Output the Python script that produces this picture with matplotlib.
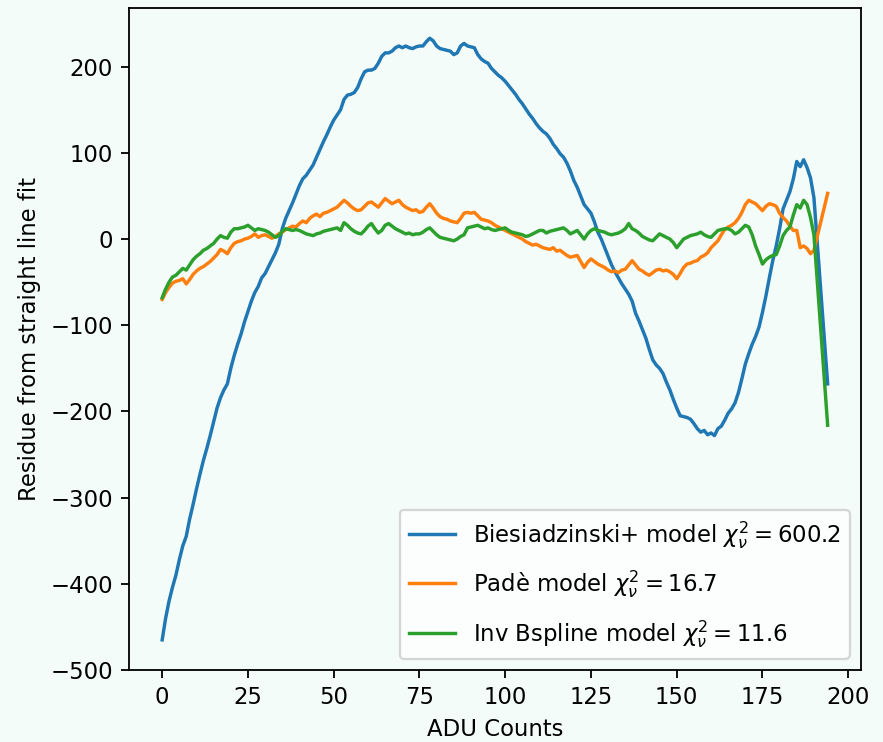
import numpy as np
import matplotlib
matplotlib.use("Agg")
import matplotlib.pyplot as plt

# ADU counts (x) -- integer steps, final sample at 194
adu = list(range(0, 191)) + [194]

biesiadzinski = [
    -465, -440, -420, -404, -390, -372, -356, -345, -325, -308,
    -290, -273, -257, -243, -228, -212, -196, -184, -175, -168,
    -150, -135, -122, -110, -96, -84, -72, -62, -55, -45,
    -40, -32, -24, -16, -6, 12, 24, 33, 42, 52,
    62, 70, 74, 80, 86, 95, 104, 113, 121, 130,
    138, 144, 150, 162, 167, 168, 170, 176, 186, 194,
    196, 196, 198, 204, 212, 216, 216, 218, 222, 224,
    222, 224, 222, 221, 223, 224, 224, 229, 233, 230,
    224, 221, 220, 219, 218, 214, 216, 224, 227, 224,
    223, 222, 214, 209, 206, 204, 198, 194, 190, 187,
    183, 178, 173, 168, 162, 157, 151, 145, 140, 134,
    129, 125, 122, 117, 110, 105, 99, 95, 88, 79,
    68, 60, 50, 40, 35, 30, 20, 8, 0, -10,
    -20, -30, -38, -45, -52, -58, -64, -72, -86, -95,
    -105, -115, -128, -140, -146, -150, -156, -166, -175, -186,
    -196, -205, -206, -207, -209, -214, -220, -224, -222, -227,
    -225, -228, -220, -217, -210, -202, -197, -190, -178, -162,
    -145, -133, -122, -113, -102, -85, -66, -45, -25, -8,
    12, 35, 45, 55, 70, 90, 84, 92, 83, 71,
    48, -168,
]

pade = [
    -70, -62, -56, -51, -49, -48, -46, -52, -47, -41,
    -37, -34, -32, -29, -26, -22, -18, -12, -14, -17,
    -10, -5, -3, -2, 0, 1, 3, 6, 2, 4,
    5, 3, 1, 3, 6, 8, 11, 13, 15, 14,
    18, 21, 19, 24, 27, 29, 26, 30, 31, 33,
    35, 37, 41, 45, 42, 38, 35, 33, 34, 38,
    42, 43, 40, 37, 42, 47, 44, 41, 43, 45,
    40, 37, 35, 33, 34, 31, 32, 37, 41, 36,
    30, 26, 24, 23, 21, 20, 19, 24, 30, 31,
    30, 31, 27, 23, 22, 21, 19, 16, 14, 12,
    10, 8, 6, 4, 2, 0, -3, -5, -7, -6,
    -8, -10, -11, -12, -10, -14, -13, -16, -19, -21,
    -20, -19, -26, -33, -27, -23, -26, -29, -31, -33,
    -36, -38, -37, -39, -36, -35, -30, -25, -30, -35,
    -37, -40, -42, -39, -36, -35, -37, -36, -38, -41,
    -46, -40, -33, -29, -28, -26, -25, -21, -19, -16,
    -10, -6, -2, 5, 11, 14, 16, 19, 24, 31,
    40, 45, 43, 41, 37, 33, 38, 41, 40, 38,
    30, 25, 21, 15, 10, 10, -10, -8, -11, -17,
    -13, 53,
]

inv_bspline = [
    -68, -58, -50, -44, -42, -38, -34, -36, -30, -24,
    -20, -17, -13, -11, -8, -5, 0, 4, 2, 1,
    8, 12, 12, 13, 14, 16, 13, 10, 12, 11,
    10, 8, 5, 2, 4, 9, 12, 11, 10, 11,
    10, 8, 6, 5, 4, 6, 7, 9, 10, 11,
    12, 13, 10, 19, 16, 12, 9, 7, 6, 10,
    15, 18, 12, 7, 10, 16, 18, 15, 12, 10,
    8, 6, 7, 5, 6, 6, 8, 11, 13, 9,
    5, 2, 1, 0, -1, -2, 0, 3, 5, 13,
    14, 15, 16, 14, 12, 13, 11, 10, 11, 12,
    13, 10, 8, 7, 6, 5, 3, 4, 6, 8,
    10, 10, 7, 9, 10, 11, 12, 13, 10, 6,
    8, 10, 5, 0, 6, 10, 12, 10, 9, 8,
    6, 5, 6, 7, 9, 12, 18, 12, 10, 7,
    3, 1, -1, -2, 2, 6, 4, 2, 0, -4,
    -10, -5, 0, 2, 4, 5, 6, 8, 5, 3,
    2, 6, 10, 11, 12, 12, 10, 6, 8, 12,
    16, 14, 5, -8, -18, -29, -24, -21, -19, -18,
    -8, 4, 10, 14, 28, 40, 36, 45, 40, 25,
    5, -216,
]

labels = [
    r"Biesiadzinski+ model $\chi^2_\nu = 600.2$",
    r"Padè model $\chi^2_\nu = 16.7$",
    r"Inv Bspline model $\chi^2_\nu = 11.6$",
]

DPI = 164
bg = "#f4fcf9"
fig = plt.figure(figsize=(883 / DPI, 742 / DPI), dpi=DPI, facecolor=bg)
ax = fig.add_axes([0.146, 0.097, 0.829, 0.892], facecolor=bg)

ax.plot(adu, biesiadzinski, color="#1f77b4", lw=1.5, label=labels[0])
ax.plot(adu, pade, color="#ff7f0e", lw=1.5, label=labels[1])
ax.plot(adu, inv_bspline, color="#2ca02c", lw=1.5, label=labels[2])

ax.set_xlabel("ADU Counts", fontsize=10)
ax.set_ylabel("Residue from straight line fit", fontsize=10)
ax.set_xticks([0, 25, 50, 75, 100, 125, 150, 175, 200])
ax.set_yticks([-500, -400, -300, -200, -100, 0, 100, 200])
ax.tick_params(labelsize=10)
ax.legend(loc="lower right", fontsize=10, labelspacing=0.78)

fig.savefig("out.png", dpi=DPI, facecolor=bg)
